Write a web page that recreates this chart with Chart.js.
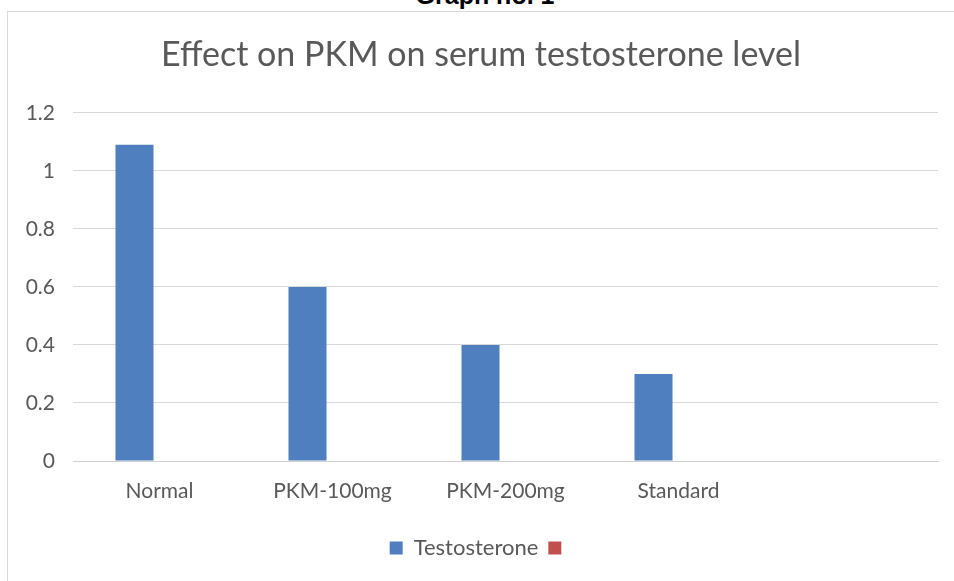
<!DOCTYPE html>
<html>
  <head>
    <meta charset="utf-8">
    <title>Effect on PKM on serum testosterone level</title>
    <script src="https://cdn.jsdelivr.net/npm/chart.js@4.4.1/dist/chart.umd.min.js"></script>
    <style>
      body {
        margin: 0;
        background-color: white;
        overflow: hidden;
        font-family: Lato, sans-serif;
      }
      #caption {
        position: absolute;
        left: 8px;
        width: 954px;
        top: -19px;
        text-align: center;
        font-family: 'Liberation Sans', Arial, sans-serif;
        font-weight: bold;
        font-size: 25px;
        line-height: 28px;
        color: black;
      }
      #frame {
        position: absolute;
        left: 7px;
        top: 11px;
        width: 970px;
        height: 600px;
        border: 1px solid #d9d9d9;
      }
      #canvas {
        position: absolute;
        left: 3px;
        top: 21px;
      }
    </style>
  </head>
  <body>
    <div id="caption">Graph no. 1</div>
    <div id="frame">
      <canvas id="canvas" width="943" height="548"></canvas>
    </div>
    <script>
      // values
      var groups = ['Normal', 'PKM-100mg', 'PKM-200mg', 'Standard', ''];
      var testosterone = [1.09, 0.6, 0.4, 0.3, null];
      var emptySeries = [null, null, null, null, null];
      var yTicks = [0, 0.2, 0.4, 0.6, 0.8, 1, 1.2];

      var textGrey = '#595959';

      var ctx = document.getElementById('canvas').getContext('2d');
      var myChart = new Chart(ctx, {
        type: 'bar',
        data: {
          labels: groups,
          datasets: [
            { label: 'Testosterone', data: testosterone, backgroundColor: '#4f7fbe', borderWidth: 0 },
            { label: '', data: emptySeries, backgroundColor: '#c0504d', borderWidth: 0 }
          ]
        },
        options: {
          responsive: false,
          animation: false,
          layout: { padding: { left: 13, right: 16, top: 0, bottom: 12 } },
          datasets: {
            bar: { categoryPercentage: 0.578, barPercentage: 0.76 }
          },
          scales: {
            x: {
              grid: { display: false, drawTicks: false },
              border: { color: '#d0d0d0' },
              afterFit: function (axis) { axis.height = 66; },
              ticks: { color: textGrey, font: { family: 'Lato', size: 21 }, padding: 18 }
            },
            y: {
              min: 0,
              max: 1.2,
              afterBuildTicks: function (axis) {
                axis.ticks = yTicks.map(function (v) { return { value: v }; });
              },
              afterFit: function (axis) { axis.width = 49; },
              grid: { color: '#d9d9d9', drawTicks: false },
              border: { display: false },
              ticks: {
                color: textGrey,
                font: { family: 'Lato', size: 21 },
                padding: 18,
                callback: function (v) { return String(v); }
              }
            }
          },
          plugins: {
            title: {
              display: true,
              text: 'Effect on PKM on serum testosterone level',
              color: textGrey,
              font: { family: 'Lato', size: 34, weight: 'normal' },
              padding: { top: 2, bottom: 37 }
            },
            legend: {
              position: 'bottom',
              labels: { color: textGrey, font: { family: 'Lato', size: 22 }, boxWidth: 13, boxHeight: 13, padding: 10 }
            },
            tooltip: { enabled: false }
          }
        }
      });
    </script>
  </body>
</html>
